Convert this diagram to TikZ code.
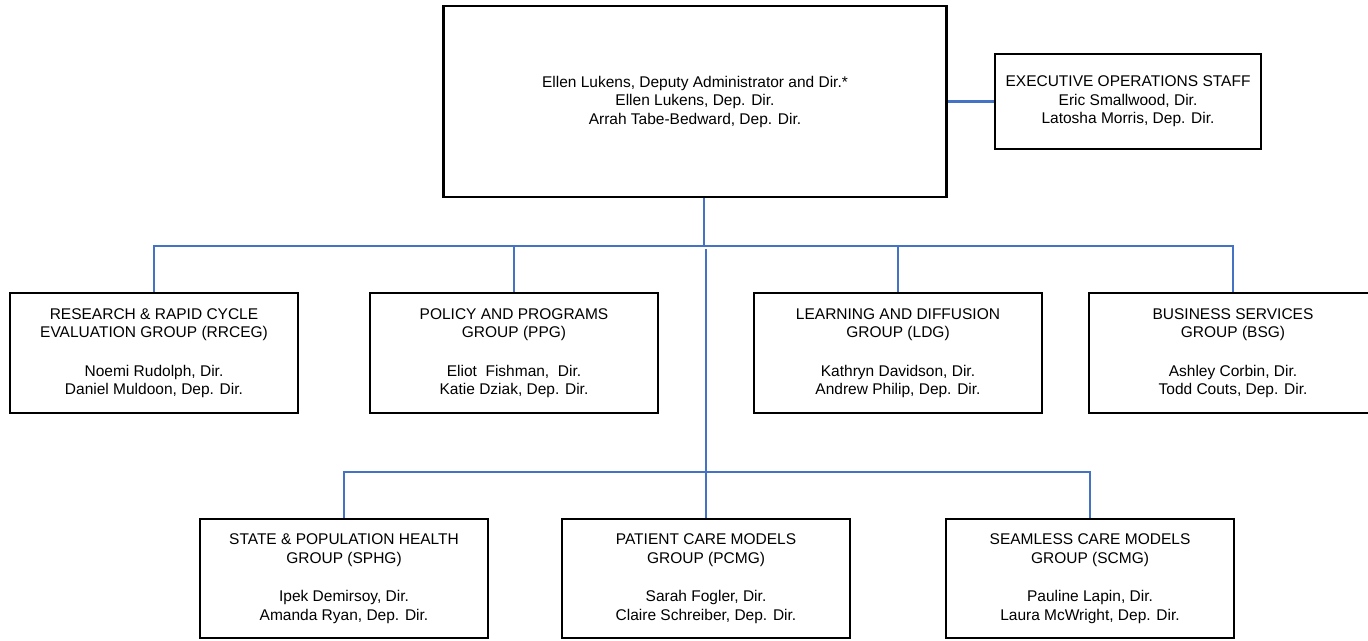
\documentclass[tikz,border=0pt]{standalone}
\usepackage{fontspec}
\setmainfont{Liberation Sans}
\definecolor{linkblue}{RGB}{68,114,196}
\begin{document}
\begin{tikzpicture}[x=1bp,y=-1bp,
  box/.style={draw=black,line width=2.5bp,rectangle,inner sep=0pt,align=center,
    font=\fontsize{15.5bp}{18.5bp}\selectfont},
  unitbox/.style={box,minimum width=288bp,minimum height=120bp},
  link/.style={draw=linkblue,line width=2.4bp}]
\useasboundingbox (0,0) rectangle (1368,641);
\clip (0,0) rectangle (1368,641);
\node[box,minimum width=503bp,minimum height=191bp] (top) at (695,101.5)
  {Ellen Lukens, Deputy Administrator and Dir.*\\Ellen Lukens, Dep. Dir.\\Arrah Tabe-Bedward, Dep. Dir.};
\node[box,minimum width=266bp,minimum height=95bp] (exec) at (1128,101.5)
  {EXECUTIVE OPERATIONS STAFF\\Eric Smallwood, Dir.\\Latosha Morris, Dep. Dir.};
\node[unitbox] (r1) at (154,353)
  {RESEARCH \& RAPID CYCLE\\EVALUATION GROUP (RRCEG)\\[20bp]Noemi Rudolph, Dir.\\Daniel Muldoon, Dep. Dir.};
\node[unitbox] (r2) at (514,353)
  {POLICY AND PROGRAMS\\GROUP (PPG)\\[20bp]Eliot~ Fishman,~ Dir.\\Katie Dziak, Dep. Dir.};
\node[unitbox] (r3) at (898,353)
  {LEARNING AND DIFFUSION\\GROUP (LDG)\\[20bp]Kathryn Davidson, Dir.\\Andrew Philip, Dep. Dir.};
\node[unitbox] (r4) at (1233,353)
  {BUSINESS SERVICES\\GROUP (BSG)\\[20bp]Ashley Corbin, Dir.\\Todd Couts, Dep. Dir.};
\node[unitbox,minimum height=119bp] (p1) at (344,578.5)
  {STATE \& POPULATION HEALTH\\GROUP (SPHG)\\[20bp]Ipek Demirsoy, Dir.\\Amanda Ryan, Dep. Dir.};
\node[unitbox,minimum height=119bp] (p2) at (706,578.5)
  {PATIENT CARE MODELS\\GROUP (PCMG)\\[20bp]Sarah Fogler, Dir.\\Claire Schreiber, Dep. Dir.};
\node[unitbox,minimum height=119bp] (p3) at (1090,578.5)
  {SEAMLESS CARE MODELS\\GROUP (SCMG)\\[20bp]Pauline Lapin, Dir.\\Laura McWright, Dep. Dir.};
\coordinate (b1) at (704,246);
\coordinate (b2) at (706,472);
\draw[link] (top.east) -- (exec.west);
\draw[link] (b1 |- top.south) -- (b1);
\draw[link] (r1.north) -- (r1.north |- b1) -- (r4.north |- b1) -- (r4.north);
\draw[link] (r2.north) -- (r2.north |- b1);
\draw[link] (r3.north) -- (r3.north |- b1);
\draw[link] ([yshift=-3bp]b2 |- b1) -- (p2.north);
\draw[link] (p1.north) -- (p1.north |- b2) -- (p3.north |- b2) -- (p3.north);
\end{tikzpicture}
\end{document}
